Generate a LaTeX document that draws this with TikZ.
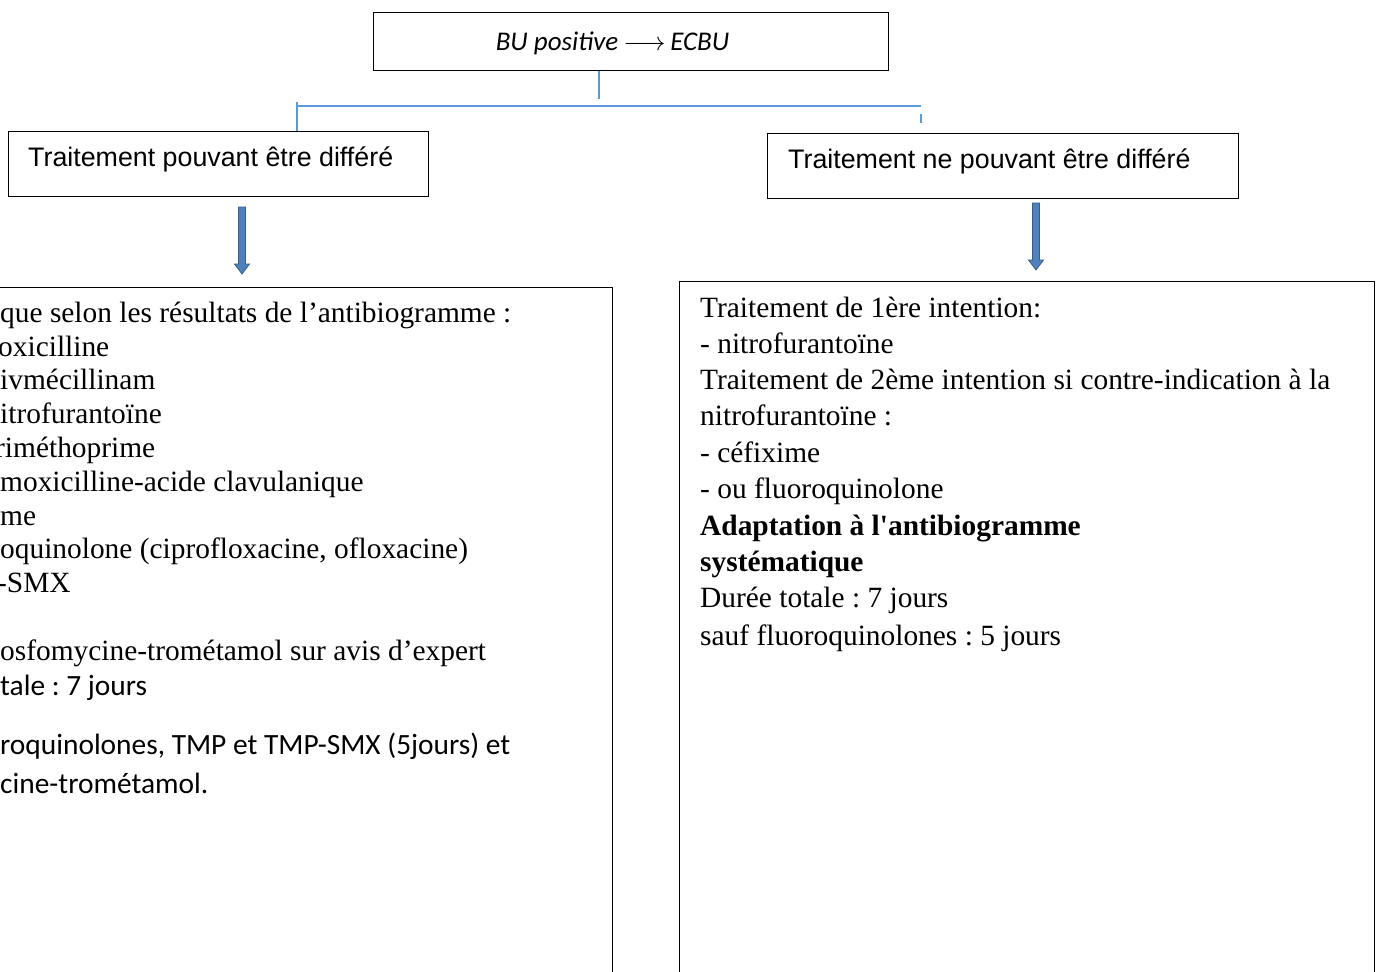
\documentclass[tikz,border=0pt]{standalone}
\usepackage{fontspec}
\setmainfont{Liberation Serif}
\newfontfamily\arialf{Liberation Sans}
\newfontfamily\calf{Carlito}
\newfontfamily\tnrraw[Ligatures=ResetAll]{Liberation Serif}
\definecolor{linkblue}{RGB}{91,155,213}
\definecolor{arrfill}{RGB}{79,129,189}
\definecolor{arrline}{RGB}{56,93,138}
\frenchspacing
\tikzset{
  box/.style={draw=black, line width=1.1pt, rectangle, anchor=north west, inner sep=0pt},
  link/.style={draw=linkblue, line width=1.2pt},
  tnr/.style={anchor=base west, inner sep=0pt, font=\fontsize{29.4}{34}\selectfont},
  cal/.style={anchor=base west, inner sep=0pt, font=\calf\fontsize{29.4}{34}\selectfont},
  arl/.style={anchor=base west, inner sep=0pt, font=\arialf\fontsize{26.8}{31}\selectfont},
  blockarrow/.style={fill=arrfill, draw=arrline, line width=0.8pt},
  blockdown/.pic={\path[blockarrow] (-3.5,0) -- (3.5,0) -- (3.5,57) -- (7.5,57) -- (0,67) -- (-7.5,57) -- (-3.5,57) -- cycle;}
}
\begin{document}
\begin{tikzpicture}[x=1pt,y=-1pt]
\useasboundingbox (0,0) rectangle (1380,971);
% top box
\node[box, minimum width=515pt, minimum height=58pt] (top) at (373,12) {};
\node[anchor=base, inner sep=0pt, font=\calf\itshape\fontsize{27}{32}\selectfont] (toplabel) at (612.5,51) {BU positive\hspace{5pt}\scalebox{1.05}{$\longrightarrow$}\hspace{5pt}ECBU};
% second level boxes
\node[box, minimum width=420pt, minimum height=65pt] (lb) at (8,131) {};
\node[arl] (lblabel) at (28,166) {Traitement pouvant être différé};
\node[box, minimum width=471pt, minimum height=65pt] (rb) at (767,133) {};
\node[arl] (rblabel) at (788,168) {Traitement ne pouvant être différé};
% connectors
\coordinate (t1) at (599,99);
\draw[link] (top.south -| t1) -- (t1);
\coordinate (hl) at (297,106);
\coordinate (hr) at (921,106);
\draw[link] (hl) -- (hr);
\coordinate (ltick) at (297,102);
\draw[link] (ltick) -- (ltick |- lb.north);
\coordinate (rt1) at (921,114);
\coordinate (rt2) at (921,123);
\draw[link] (rt1) -- (rt2);
% block arrows
\pic at (242,207) {blockdown};
\pic at (1036,203) {blockdown};
% big boxes
\node[box, minimum width=622pt, minimum height=720pt] (lbig) at (-10,287) {};
\node[box, minimum width=695pt, minimum height=720pt] (rbig) at (679,281) {};
% left text
\node[tnr] (l1) at (0,322) {que selon les résultats de l’antibiogramme :};
\node[tnr] (l2) at (-2,356) {oxicilline};
\node[tnr] (l3) at (0,389) {ivmécillinam};
\node[tnr] (l4) at (0,423) {itrofurantoïne};
\node[tnr] (l5) at (-5,457) {riméthoprime};
\node[tnr] (l6) at (0,491) {moxicilline-acide clavulanique};
\node[tnr] (l7) at (0,525) {me};
\node[tnr] (l8) at (0,558) {oquinolone (ciprofloxacine, ofloxacine)};
\node[tnr] (l9) at (-3,592) {-SMX};
\node[tnr] (l10) at (0,660) {osfomycine-trométamol sur avis d’expert};
\node[cal] (l11) at (0,695) {tale : 7 jours};
\node[cal] (l12) at (0,754) {roquinolones, TMP et TMP-SMX (5jours) et};
\node[cal] (l13) at (0,793) {cine-trométamol.};
% right text
\node[tnr] (r1) at (700,317) {Traitement de 1ère intention:};
\node[tnr] (r2) at (700,353) {- nitrofurantoïne};
\node[tnr] (r3) at (700,389) {Traitement de 2ème intention si contre-indication à la};
\node[tnr] (r4) at (700,425) {nitrofurantoïne :};
\node[tnr] (r5) at (700,462) {- céfixime};
\node[tnr] (r6) at (700,498) {- ou fluoroquinolone};
\node[tnr, font=\tnrraw\bfseries\fontsize{29.4}{34}\selectfont] (r7) at (700,535) {Adaptation à l'antibiogramme};
\node[tnr, font=\bfseries\fontsize{29.4}{34}\selectfont] (r8) at (700,571) {systématique};
\node[tnr] (r9) at (700,607) {Durée totale : 7 jours};
\node[tnr] (r10) at (700,645) {sauf fluoroquinolones : 5 jours};
\end{tikzpicture}
\end{document}
